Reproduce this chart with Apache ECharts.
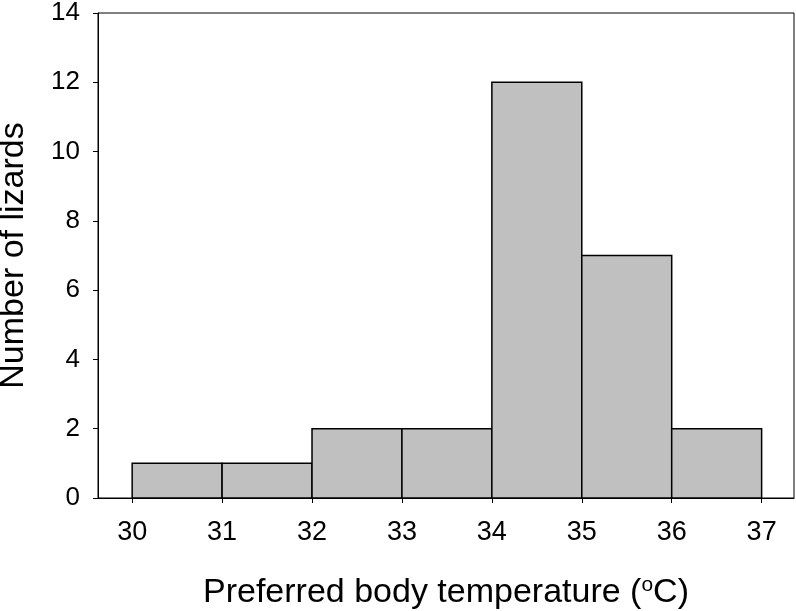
<!DOCTYPE html>
<html>
<head>
<meta charset="utf-8">
<script src="https://cdn.jsdelivr.net/npm/echarts@6/dist/echarts.min.js"></script>
<style>
html,body{margin:0;padding:0;background:#fff;}
#chart{width:796px;height:611px;}
</style>
</head>
<body>
<div id="chart"></div>
<script>
const binStarts = [30, 31, 32, 33, 34, 35, 36];
const binEnds = [31, 32, 33, 34, 35, 36, 37];
const counts = [1, 1, 2, 2, 12, 7, 2];
const xTickValues = [30, 31, 32, 33, 34, 35, 36, 37];
const yTickValues = [0, 2, 4, 6, 8, 10, 12, 14];

const data = binStarts.map((s, i) => [s, binEnds[i], counts[i]]);

const chart = echarts.init(document.getElementById('chart'));
const font = 'Liberation Sans, Arial, sans-serif';
chart.setOption({
  animation: false,
  grid: {
    left: 98, right: 2, top: 13, bottom: 113,
    containLabel: false,
    outerBoundsMode: 'none',
    show: true, borderColor: '#000', borderWidth: 1, backgroundColor: 'transparent'
  },
  xAxis: {
    type: 'value',
    min: 29.62, max: 37.36,
    splitLine: { show: false },
    axisLine: { show: true, onZero: false, lineStyle: { color: '#000', width: 1 } },
    axisTick: { show: true, inside: false, length: 5, lineStyle: { color: '#000' }, customValues: xTickValues },
    axisLabel: { customValues: xTickValues, fontSize: 27, color: '#000', fontFamily: font, margin: 21 },
    name: '{a|Preferred body temperature (}{s|o}{a|C)}',
    nameLocation: 'middle',
    nameGap: 77,
    nameTextStyle: {
      rich: {
        a: { fontSize: 34, color: '#000', fontFamily: font, lineHeight: 36 },
        s: { fontSize: 21, color: '#000', fontFamily: font, verticalAlign: 'top', lineHeight: 36, padding: [0, 0, 14, 0] }
      }
    }
  },
  yAxis: {
    type: 'value',
    min: 0, max: 14, interval: 2,
    splitLine: { show: false },
    axisLine: { show: true, lineStyle: { color: '#000', width: 1 } },
    axisTick: { show: true, inside: false, length: 5, lineStyle: { color: '#000' } },
    axisLabel: { fontSize: 26, color: '#000', fontFamily: font, margin: 18 },
    name: 'Number of lizards',
    nameLocation: 'middle',
    nameRotate: 90,
    nameGap: 67,
    nameTextStyle: { fontSize: 34, color: '#000', fontFamily: font }
  },
  series: [{
    type: 'custom',
    data: data,
    encode: { x: [0, 1], y: 2 },
    renderItem: function (params, api) {
      const p0 = api.coord([api.value(0), api.value(2)]);
      const p1 = api.coord([api.value(1), 0]);
      return {
        type: 'rect',
        shape: { x: p0[0], y: p0[1], width: p1[0] - p0[0], height: p1[1] - p0[1] },
        style: { fill: '#c0c0c0', stroke: '#000', lineWidth: 1.5 }
      };
    }
  }]
});
</script>
</body>
</html>
